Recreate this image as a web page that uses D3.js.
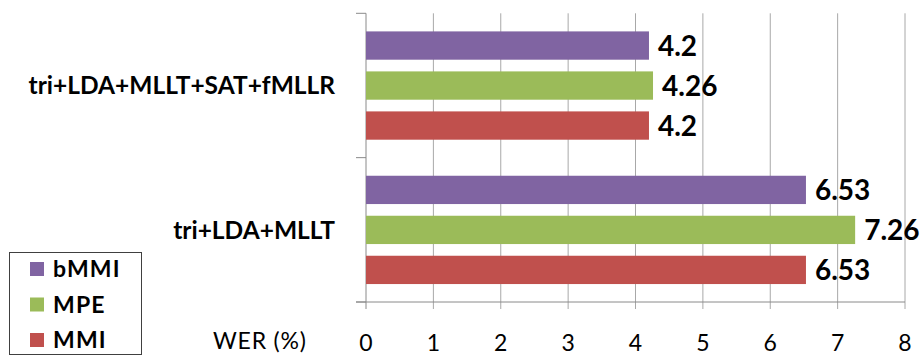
<!DOCTYPE html>
<html><head><meta charset="utf-8">
<script src="https://cdn.jsdelivr.net/npm/d3@7"></script>
<style>html,body{margin:0;padding:0;background:#fff;}svg{display:block;font-family:Lato,"Open Sans",sans-serif;}</style>
</head><body>
<svg id="c" width="920" height="356"></svg>
<script>
const categories = ["tri+LDA+MLLT+SAT+fMLLR", "tri+LDA+MLLT"];
const seriesNames = ["bMMI", "MPE", "MMI"];
const seriesColors = ["#8064A2", "#9BBB59", "#C0504D"];
const bMMI = [4.2, 6.53];
const MPE = [4.26, 7.26];
const MMI = [4.2, 6.53];
const xTicks = [0, 1, 2, 3, 4, 5, 6, 7, 8];
const xTitle = "WER (%)";

(function () {
const values = [bMMI, MPE, MMI];
const svg = d3.select("#c");
const pL = 366, pR = 905, pT = 13.3, pB = 302;

const x = d3.scaleLinear().domain([0, 8]).range([pL, pR]);
const y = d3.scaleBand().domain(categories).range([pT, pB]).paddingInner(0).paddingOuter(0);
const yIn = d3.scaleBand().domain(seriesNames).range([18.1, 126.4]).paddingInner(0.2925).paddingOuter(0);

svg.append("g").selectAll("line").data(xTicks.slice(1)).join("line")
  .attr("x1", d => x(d)).attr("x2", d => x(d))
  .attr("y1", pT).attr("y2", pB + 7)
  .attr("stroke", "#a8a8a8").attr("stroke-width", 1);
svg.append("line").attr("x1", x(0)).attr("x2", x(0)).attr("y1", pB).attr("y2", pB + 7)
  .attr("stroke", "#8a8a8a");

svg.append("line").attr("x1", x(0)).attr("x2", x(0)).attr("y1", pT).attr("y2", pB)
  .attr("stroke", "#8a8a8a");
const bounds = [pT, y(categories[1]), pB];
svg.append("g").selectAll("line").data(bounds).join("line")
  .attr("x1", x(0) - 10).attr("x2", x(0)).attr("y1", d => d).attr("y2", d => d)
  .attr("stroke", "#8a8a8a");
svg.append("line").attr("x1", x(0) - 10).attr("x2", pR).attr("y1", pB).attr("y2", pB)
  .attr("stroke", "#8a8a8a");

const rows = [];
categories.forEach((c, ci) => seriesNames.forEach((s, si) => rows.push({c, s, si, v: values[si][ci]})));
svg.append("g").selectAll("rect").data(rows).join("rect")
  .attr("x", x(0)).attr("y", d => y(d.c) + yIn(d.s))
  .attr("width", d => x(d.v) - x(0)).attr("height", yIn.bandwidth())
  .attr("fill", d => seriesColors[d.si]);

svg.append("g").selectAll("text").data(rows).join("text")
  .attr("x", d => x(d.v) + 9).attr("y", d => y(d.c) + yIn(d.s) + yIn.bandwidth() / 2)
  .attr("dy", "0.36em").attr("font-size", 28).attr("font-weight", "bold").attr("fill", "#000")
  .text(d => d.v);

svg.append("g").selectAll("text").data(categories).join("text")
  .attr("x", 335).attr("y", d => y(d) + y.bandwidth() / 2)
  .attr("dy", "0.36em").attr("text-anchor", "end").attr("font-size", 24.5).attr("font-weight", "bold")
  .text(d => d);

svg.append("g").selectAll("text").data(xTicks).join("text")
  .attr("x", d => x(d)).attr("y", 343).attr("dy", "0.36em").attr("text-anchor", "middle")
  .attr("font-size", 23).text(d => d);
svg.append("text").attr("x", 213).attr("y", 341).attr("dy", "0.36em").attr("font-size", 23)
  .attr("letter-spacing", 0.8).text(xTitle);

const lg = svg.append("g");
lg.append("rect").attr("x", 9.5).attr("y", 252.5).attr("width", 132).attr("height", 102)
  .attr("fill", "#fff").attr("stroke", "#404040").attr("stroke-width", 1);
const ly = d3.scalePoint().domain(seriesNames).range([269, 340]);
lg.selectAll("rect.k").data(seriesNames).join("rect").attr("class", "k")
  .attr("x", 30).attr("y", d => ly(d) - 7).attr("width", 14).attr("height", 14)
  .attr("fill", (d, i) => seriesColors[i]);
lg.selectAll("text").data(seriesNames).join("text")
  .attr("x", 53).attr("y", d => ly(d)).attr("dy", "0.36em").attr("font-size", 23).attr("font-weight", "bold")
  .attr("letter-spacing", 1.2).text(d => d);
})();
</script>
</body></html>
